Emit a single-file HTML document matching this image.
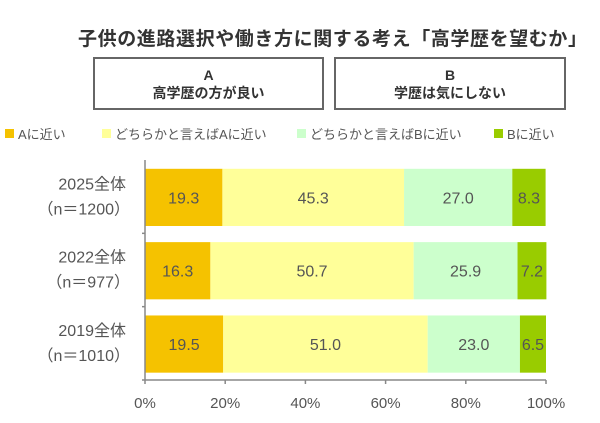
<!DOCTYPE html>
<html><head><meta charset="utf-8"><style>
body{margin:0;width:600px;height:423px;background:#fff;font-family:"Liberation Sans","Noto Sans CJK JP",sans-serif;overflow:hidden;position:relative}
.t{position:absolute;white-space:nowrap}
.box{position:absolute;border:2px solid #666;box-sizing:border-box;text-align:center;font-weight:bold;font-size:14px;line-height:18px;color:#333;padding-top:7px}
.lg{position:absolute;top:124px;font-size:13px;color:#555;display:flex;align-items:center}
.lg i{display:inline-block;width:9px;height:9px;margin-right:4px}
</style></head><body>
<div class="t" style="left:78px;top:24px;font-size:19px;font-weight:bold;color:#333;letter-spacing:0.6px">子供の進路選択や働き方に関する考え「高学歴を望むか」</div>
<div class="box" style="left:93px;top:57px;width:231px;height:53px">A<br>高学歴の方が良い</div>
<div class="box" style="left:334px;top:57px;width:232px;height:53px">B<br>学歴は気にしない</div>
<div class="lg" style="left:5px"><i style="background:#f5c200"></i>Aに近い</div>
<div class="lg" style="left:102px"><i style="background:#ffff99"></i>どちらかと言えばAに近い</div>
<div class="lg" style="left:297px"><i style="background:#ccffcc"></i>どちらかと言えばBに近い</div>
<div class="lg" style="left:494px"><i style="background:#99cc00"></i>Bに近い</div>
<svg id="c" width="600" height="423" style="position:absolute;left:0;top:0"></svg>
<script>
const categories=["2025全体","2022全体","2019全体"];
const sampleSizes=["（n＝1200）","（n＝977）","（n＝1010）"];
const nearA=[19.3,16.3,19.5];
const ratherA=[45.3,50.7,51.0];
const ratherB=[27.0,25.9,23.0];
const nearB=[8.3,7.2,6.5];
const ticks=[0,20,40,60,80,100];
const series=[nearA,ratherA,ratherB,nearB];
const colors=["#f5c200","#ffff99","#ccffcc","#99cc00"];
const names=["near-a","rather-a","rather-b","near-b"];
const svg=document.getElementById('c');const NS="http://www.w3.org/2000/svg";
const x0=145,x1=546,yTop=160,yBot=380;
const xs=v=>x0+(x1-x0)*v/100;
const band=(yBot-yTop)/categories.length;
function mk(t,a){const e=document.createElementNS(NS,t);for(const k in a)e.setAttribute(k,a[k]);svg.appendChild(e);return e;}
categories.forEach((c,i)=>{
  const y=yTop+band*i+band*0.12,h=band*0.78;
  let acc=0;
  series.forEach((s,j)=>{
    const v=s[i];
    const r=mk('rect',{x:xs(acc),y:y,width:xs(acc+v)-xs(acc),height:h,fill:colors[j]});
    
    
    const t=mk('text',{x:xs(acc+v/2),y:y+h/2+6,'text-anchor':'middle','font-size':16,fill:'#555'});
    t.textContent=v.toFixed(1);
    
    
    acc+=v;
  });
  const l1=mk('text',{x:126,y:yTop+band*i+band*0.4,'text-anchor':'end','font-size':16,fill:'#555'});
  l1.textContent=c;
  
  
  const l2=mk('text',{x:130,y:yTop+band*i+band*0.4+25,'text-anchor':'end','font-size':16,fill:'#555'});
  l2.textContent=sampleSizes[i];
  
  
  if(i>0){const tk=mk('line',{x1:x0-3,x2:x0,y1:yTop+band*i,y2:yTop+band*i,stroke:'#888','stroke-width':1.5});}
});
const ya=mk('line',{x1:x0,x2:x0,y1:yTop,y2:yBot,stroke:'#888','stroke-width':1.5});

const xa=mk('line',{x1:x0-3,x2:x1,y1:yBot,y2:yBot,stroke:'#888','stroke-width':1.5});

ticks.forEach(v=>{
  const tk=mk('line',{x1:xs(v),x2:xs(v),y1:yBot,y2:yBot+4,stroke:'#888','stroke-width':1.5});
  
  const t=mk('text',{x:xs(v),y:yBot+28,'text-anchor':'middle','font-size':15,fill:'#555'});
  t.textContent=v+'%';
  
  
});
</script>
</body></html>
